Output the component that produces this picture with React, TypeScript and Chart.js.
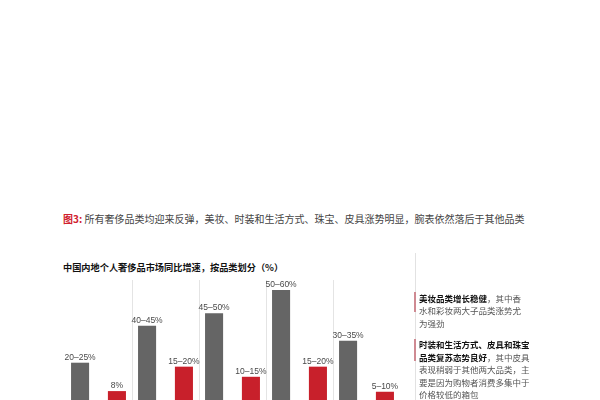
import { useEffect, useRef } from "react";
import { Chart, registerables, ChartConfiguration, Plugin } from "chart.js";

Chart.register(...registerables);

// categories in the original figure carry no visible axis labels (cropped off)
const categories = ["品类1", "品类2", "品类3", "品类4", "品类5"];
const greyValues = [21.5, 38.3, 44.0, 54.5, 31.5];
const redValues = [8.6, 19.7, 15.1, 19.7, 8.3];
const greyLabels = ["20–25%", "40–45%", "45–50%", "50–60%", "30–35%"];
const redLabels = ["8%", "15–20%", "10–15%", "15–20%", "5–10%"];

const GREY = "#656565";
const RED = "#c8202b";

const barLabels: Plugin<"bar"> = {
  id: "barLabels",
  afterDatasetsDraw(chart) {
    const { ctx } = chart;
    const texts = [greyLabels, redLabels];
    ctx.save();
    ctx.font = '8.5px "Liberation Sans", Arial, sans-serif';
    ctx.fillStyle = "#4a4a4a";
    ctx.textAlign = "center";
    ctx.textBaseline = "middle";
    chart.data.datasets.forEach((_, di) => {
      chart.getDatasetMeta(di).data.forEach((el, i) => {
        ctx.fillText(texts[di][i], el.x, el.y - 5.5);
      });
    });
    ctx.restore();
  },
};

const BarChart = () => {
  const chartRef = useRef<HTMLCanvasElement | null>(null);
  const chartInstance = useRef<Chart | null>(null);

  useEffect(() => {
    if (!chartRef.current) return;
    if (chartInstance.current) chartInstance.current.destroy();

    const config: ChartConfiguration<"bar"> = {
      type: "bar",
      data: {
        labels: categories,
        datasets: [
          { data: greyValues, backgroundColor: GREY },
          { data: redValues, backgroundColor: RED },
        ],
      },
      options: {
        animation: false,
        responsive: true,
        maintainAspectRatio: false,
        categoryPercentage: 1.1,
        barPercentage: 0.49,
        layout: { padding: { left: 65, right: 15, top: 40, bottom: 0 } },
        plugins: {
          legend: { display: false },
          tooltip: { enabled: false },
        },
        scales: {
          x: {
            ticks: { display: false },
            border: { display: false },
            grid: {
              drawTicks: false,
              color: (c: any) =>
                c.type !== "tick" || c.index === 0 ? "rgba(0,0,0,0)" : "#e4e4e4",
            },
          },
          y: { display: false, min: 4.55, max: 59.09 },
        },
      },
      plugins: [barLabels],
    };

    chartInstance.current = new Chart(chartRef.current, config);
    return () => {
      chartInstance.current?.destroy();
    };
  }, []);

  return <canvas ref={chartRef} />;
};

const noteStyle: React.CSSProperties = {
  position: "absolute",
  left: 419,
  fontSize: 8.5,
  lineHeight: "12.5px",
  color: "#555",
  fontFamily: '"Noto Sans CJK SC", sans-serif',
  whiteSpace: "nowrap",
};

const b: React.CSSProperties = { fontWeight: 700, color: "#111" };

export default function App() {
  return (
    <div
      style={{
        position: "fixed",
        left: 0,
        top: 0,
        width: 600,
        height: 400,
        background: "#fff",
        overflow: "hidden",
        fontFamily: '"Noto Sans CJK SC", sans-serif',
      }}
    >
      <div
        style={{
          position: "absolute",
          left: 63,
          top: 213,
          fontSize: 10,
          lineHeight: "12px",
          color: "#444",
          whiteSpace: "nowrap",
        }}
      >
        <span style={{ color: "#d0212e", fontWeight: 700 }}>图3:</span> 所有奢侈品类均迎来反弹，美妆、时装和生活方式、珠宝、皮具涨势明显，腕表依然落后于其他品类
      </div>
      <div
        style={{
          position: "absolute",
          left: 63,
          top: 262,
          fontSize: 9.2,
          lineHeight: "11px",
          fontWeight: 700,
          color: "#111",
          whiteSpace: "nowrap",
        }}
      >
        中国内地个人奢侈品市场同比增速，按品类划分（%）
      </div>

      <div style={{ position: "absolute", left: 0, top: 240, width: 415, height: 160 }}>
        <BarChart />
      </div>

      <div style={{ position: "absolute", left: 415, top: 253, width: 1, height: 147, background: "#e2e2e2" }} />
      <div style={{ position: "absolute", left: 414, top: 292, width: 2, height: 20, background: "#cf8a92" }} />
      <div style={{ position: "absolute", left: 414, top: 339, width: 2, height: 22, background: "#cf8a92" }} />

      <div style={{ ...noteStyle, top: 291.5 }}>
        <span style={b}>美妆品类增长稳健</span>，其中香
        <br />
        水和彩妆两大子品类涨势尤
        <br />
        为强劲
      </div>
      <div style={{ ...noteStyle, top: 338 }}>
        <span style={b}>时装和生活方式、皮具和珠宝</span>
        <br />
        <span style={b}>品类复苏态势良好</span>，其中皮具
        <br />
        表现稍弱于其他两大品类，主
        <br />
        要是因为购物者消费多集中于
        <br />
        价格较低的箱包
      </div>
    </div>
  );
}
